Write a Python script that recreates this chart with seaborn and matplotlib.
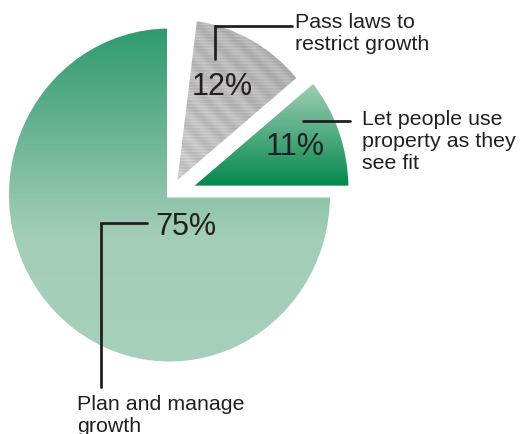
import numpy as np
import matplotlib
matplotlib.use("Agg")
import matplotlib.pyplot as plt
from matplotlib.colors import LinearSegmentedColormap
import seaborn as sns

# =========================
# Data
# =========================
answers = [
    "Plan and manage\ngrowth",
    "Let people use\nproperty as they\nsee fit",
    "Pass laws to\nrestrict growth",
]
shares = [75, 11, 12]
pct_labels = ["75%", "11%", "12%"]

# =========================
# Style
# =========================
sns.set_theme(style="white")
plt.rcParams["font.family"] = ["Liberation Sans", "DejaVu Sans"]

INK = "#231f20"
W, H = 521, 435
CX, CY = 169.5, 196   # pie centre in pixels
SX, SY = 163, 169     # pixels per unit radius


def px(x, y):
    # pixel position (from top-left) -> data coords
    return (x - CX) / SX, (CY - y) / SY


fig = plt.figure(figsize=(W / 100, H / 100), dpi=100)
ax = fig.add_axes([0, 0, 1, 1])

wedges, _ = ax.pie(
    [s / 100 for s in shares],
    normalize=False,
    startangle=90,
    explode=[0, 0.12, 0.06],
    wedgeprops=dict(edgecolor="white", linewidth=3.6),
)

# =========================
# Gradient fills
# =========================
big_cmap = LinearSegmentedColormap.from_list(
    "big", [(0, "#2e9a6f"), (0.62, "#a3cdb8"), (1, "#a7d0bc")]
)
fit_cmap = LinearSegmentedColormap.from_list("fit", ["#a4d0b8", "#00874b"])


def fill(w, kind):
    ext = w.get_path().get_extents()
    ny = max(int(ext.height * SY), 2)
    nx = max(int(ext.width * SX), 2)
    yy, xx = np.mgrid[0:ny, 0:nx]
    if kind == "grey":
        img = 0.72 + 0.06 * (yy / ny - xx / nx)
        img = img + 0.03 * np.sin(2 * np.pi * (xx - yy) / 22)
        img = img + 0.035 * ((yy % 3) == 0) - 0.015 * ((yy % 3) == 1)
        cmap, interp = "gray", "nearest"
    else:
        img = yy / (ny - 1)
        cmap = big_cmap if kind == "big" else fit_cmap
        interp = "bilinear"
    w.set_facecolor("none")
    ax.imshow(
        img, cmap=cmap, vmin=0, vmax=1, origin="upper",
        extent=[ext.x0, ext.x1, ext.y0, ext.y1], aspect="auto",
        interpolation=interp, clip_path=w, zorder=w.get_zorder() - 0.5,
    )


for w, kind in zip(wedges, ["big", "fit", "grey"]):
    fill(w, kind)

# =========================
# Percentages and labels
# =========================
pct_pos = [(186, 235), (295, 155), (222, 95)]
for lab, (x, y) in zip(pct_labels, pct_pos):
    ax.text(*px(x, y), lab, fontsize=22, ha="center", va="baseline",
            color=INK, zorder=5)

label_pos = [(77, 395), (362, 110), (295, 13)]
for lab, (x, y) in zip(answers, label_pos):
    ax.text(*px(x, y), lab, fontsize=15.4, ha="left", va="top",
            color=INK, linespacing=1.2, zorder=5)

# leader lines
leaders = [
    [(147, 224), (101, 224), (101, 388)],
    [(303, 122), (350, 122)],
    [(215, 60), (215, 27), (292, 27)],
]
for pts in leaders:
    xy = np.array([px(x, y) for x, y in pts])
    ax.plot(xy[:, 0], xy[:, 1], color=INK, lw=2, solid_joinstyle="miter",
            zorder=5)

ax.set_aspect("auto")
ax.set_xlim(px(0, 0)[0], px(W, 0)[0])
ax.set_ylim(px(0, H)[1], px(0, 0)[1])
ax.axis("off")

fig.savefig("out.png", dpi=100)
